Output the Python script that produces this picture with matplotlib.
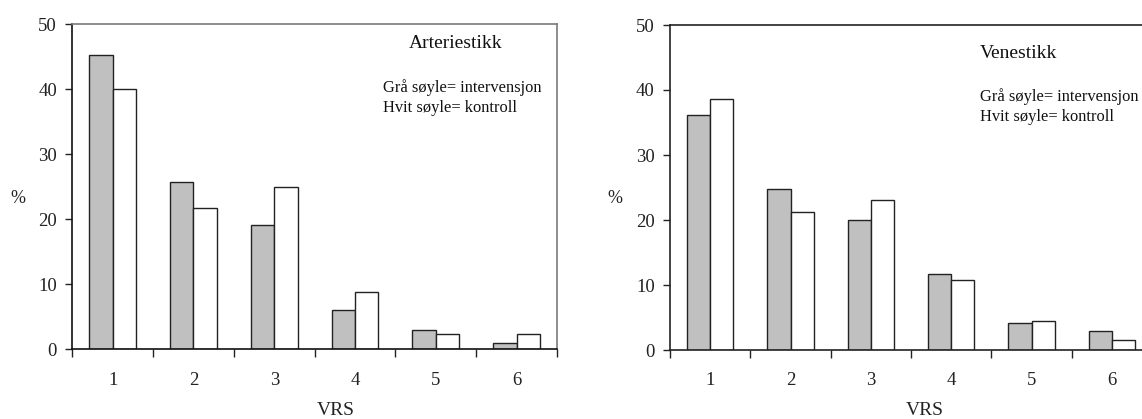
import matplotlib
matplotlib.use("Agg")
import matplotlib.pyplot as plt
import numpy as np

plt.rcParams['font.family'] = ['Liberation Serif', 'DejaVu Serif']

categories = ["1", "2", "3", "4", "5", "6"]
arterie_intervensjon = [45.2, 25.8, 19.1, 6.1, 3.0, 0.9]
arterie_kontroll = [40.0, 21.7, 25.0, 8.8, 2.3, 2.3]
vene_intervensjon = [36.1, 24.7, 20.0, 11.7, 4.1, 3.0]
vene_kontroll = [38.6, 21.2, 23.1, 10.8, 4.5, 1.5]
yticks = [0, 10, 20, 30, 40, 50]

W, H = 1142, 419
fig = plt.figure(figsize=(W / 100, H / 100), dpi=100)

def px(x, y):
    return x / W, 1 - y / H

def make_axes(left, right, top, bottom):
    return fig.add_axes([left / W, 1 - bottom / H, (right - left) / W, (bottom - top) / H])

ax1 = make_axes(72.3, 557, 24.3, 349.3)
ax2 = make_axes(670, 1152, 25, 350)

bw = 0.29
for ax, gray, white in [(ax1, arterie_intervensjon, arterie_kontroll),
                        (ax2, vene_intervensjon, vene_kontroll)]:
    x = np.arange(len(categories)) + 0.5
    ax.bar(x - bw / 2, gray, width=bw, color='#c0c0c0', edgecolor='#222222', linewidth=1.0)
    ax.bar(x + bw / 2, white, width=bw, color='white', edgecolor='#222222', linewidth=1.0)
    ax.set_xlim(0, 6)
    ax.set_ylim(0, 50)
    ax.set_yticks(yticks)
    ax.set_xticks(np.arange(0, 7))
    ax.set_xticklabels([])
    ax.set_xticks(x, minor=True)
    ax.set_xticklabels(categories, minor=True)
    ax.tick_params(axis='x', which='minor', length=0, pad=16, labelsize=13.5)
    ax.tick_params(axis='x', which='major', direction='out', length=5.5, width=1, color='#222222')
    ax.tick_params(axis='y', direction='out', length=5, width=1, pad=6, labelsize=13.5, color='#222222')
    for lab in ax.get_xticklabels(minor=True) + ax.get_yticklabels():
        lab.set_color('#222222')

for s in ['left', 'bottom']:
    ax1.spines[s].set_color('#111111')
    ax1.spines[s].set_linewidth(1.2)
for s in ['top', 'right']:
    ax1.spines[s].set_color('#7a7a7a')
    ax1.spines[s].set_linewidth(1.2)
for s in ['left', 'bottom', 'top', 'right']:
    ax2.spines[s].set_color('#222222')
    ax2.spines[s].set_linewidth(1.2)

# Titles and notes
fig.text(*px(409, 48.3), "Arteriestikk", fontsize=14, ha='left', va='baseline', color='#111111')
fig.text(*px(383, 91.7), "Grå søyle= intervensjon", fontsize=11.9, ha='left', va='baseline', color='#111111')
fig.text(*px(383, 111.7), "Hvit søyle= kontroll", fontsize=11.9, ha='left', va='baseline', color='#111111')

fig.text(*px(980, 58.3), "Venestikk", fontsize=14, ha='left', va='baseline', color='#111111')
fig.text(*px(980, 100.7), "Grå søyle= intervensjon", fontsize=11.9, ha='left', va='baseline', color='#111111')
fig.text(*px(980, 120.7), "Hvit søyle= kontroll", fontsize=11.9, ha='left', va='baseline', color='#111111')

# Axis labels
fig.text(*px(18, 198), "%", fontsize=13, ha='center', va='center', color='#222222')
fig.text(*px(615, 198), "%", fontsize=13, ha='center', va='center', color='#222222')
fig.text(*px(336, 415), "VRS", fontsize=14, ha='center', va='baseline', color='#222222')
fig.text(*px(924.5, 415), "VRS", fontsize=14, ha='center', va='baseline', color='#222222')

fig.savefig("out.png", dpi=100)
